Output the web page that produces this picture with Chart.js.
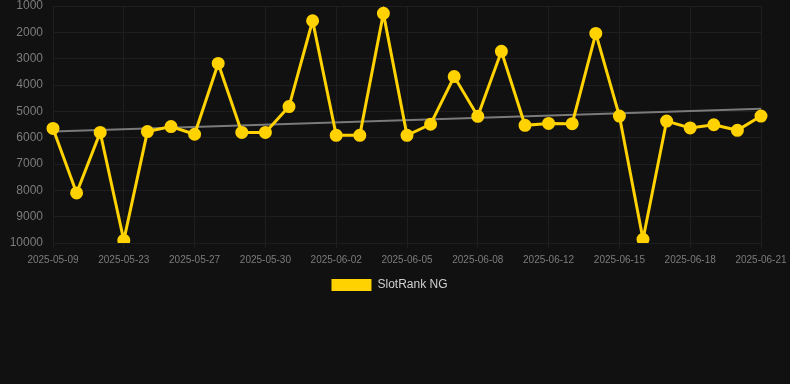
<!DOCTYPE html>
<html>
<head>
<meta charset="utf-8">
<script src="https://cdn.jsdelivr.net/npm/chart.js@4/dist/chart.umd.min.js"></script>
<style>
  html, body { margin: 0; padding: 0; background: #111111; }
  #wrap { position: relative; width: 790px; height: 384px; }
</style>
</head>
<body>
<div id="wrap"><canvas id="rank-canvas"></canvas></div>
<script>
// SlotRank NG daily rank, lower is better (axis reversed).

const dates = [
  '2025-05-09', '2025-05-14', '2025-05-19', '2025-05-23', '2025-05-24', '2025-05-25',
  '2025-05-27', '2025-05-28', '2025-05-29', '2025-05-30', '2025-05-31', '2025-06-01',
  '2025-06-02', '2025-06-03', '2025-06-04', '2025-06-05', '2025-06-06', '2025-06-07',
  '2025-06-08', '2025-06-10', '2025-06-11', '2025-06-12', '2025-06-13', '2025-06-14',
  '2025-06-15', '2025-06-16', '2025-06-17', '2025-06-18', '2025-06-19', '2025-06-20',
  '2025-06-21',
];

const rank = [
  5650, 8100, 5800, 9900, 5770, 5580, 5870, 3180, 5800, 5800, 4820, 1560,
  5910, 5910, 1280, 5910, 5490, 3680, 5190, 2720, 5530, 5460, 5470, 2040,
  5180, 9860, 5370, 5630, 5510, 5720, 5180,
];

// Trend line end points (null = no point).
const trend = dates.map(() => null);
trend[0] = 5770;
trend[dates.length - 1] = 4900;

const yTicks = { min: 1000, max: 10000, step: 1000 };

const gold = '#FFD200';
const grid = '#1e1e1e';

Chart.defaults.font.family = "'Liberation Sans', Arial, sans-serif";

new Chart(document.getElementById('rank-canvas'), {
  type: 'line',
  data: {
    labels: dates,
    datasets: [
      {
        label: 'SlotRank NG',
        data: rank,
        borderColor: gold,
        backgroundColor: gold,
        borderWidth: 3,
        pointRadius: 5,
        pointHoverRadius: 6,
        pointBackgroundColor: gold,
        pointBorderColor: gold,
        tension: 0,
      },
      {
        label: 'trend',
        data: trend,
        spanGaps: true,
        borderColor: '#7a7a7a',
        borderWidth: 2,
        pointRadius: 0,
      },
    ],
  },
  options: {
    responsive: true,
    maintainAspectRatio: false,
    animation: false,
    layout: { autoPadding: false, padding: { left: 10, right: 21, top: 0, bottom: 83 } },
    plugins: {
      legend: {
        position: 'bottom',
        labels: {
          color: '#d0d0d0',
          boxWidth: 40,
          boxHeight: 12,
          font: { size: 12 },
          generateLabels: (chart) =>
            Chart.defaults.plugins.legend.labels.generateLabels(chart)
              .filter((item) => item.text !== 'trend')
              .map((item) => ({ ...item, lineWidth: 0 })),
        },
      },
      tooltip: { enabled: false },
    },
    scales: {
      x: {
        grid: {
          color: (ctx) => (ctx.index % 3 === 0 ? grid : 'transparent'),
          tickLength: 5,
        },
        border: { display: false },
        ticks: {
          color: '#7c7c7c',
          font: { size: 10 },
          padding: 6,
          autoSkip: false,
          maxRotation: 0,
          callback: (v, i) => (i % 3 === 0 ? dates[i] : ''),
        },
        afterFit: (scale) => {
          scale.paddingRight = 29;
          scale.height -= 3;
        },
      },
      y: {
        reverse: true,
        min: yTicks.min,
        max: yTicks.max,
        grid: { color: grid, drawTicks: false },
        border: { display: false },
        ticks: {
          color: '#7c7c7c',
          font: { size: 12 },
          padding: 10,
          stepSize: yTicks.step,
          callback: (v) => String(v),
        },
        afterFit: (scale) => {
          scale.width = 43;
          scale.paddingTop = 6;
          scale.paddingBottom = 0;
        },
      },
    },
  },
});
</script>
</body>
</html>
